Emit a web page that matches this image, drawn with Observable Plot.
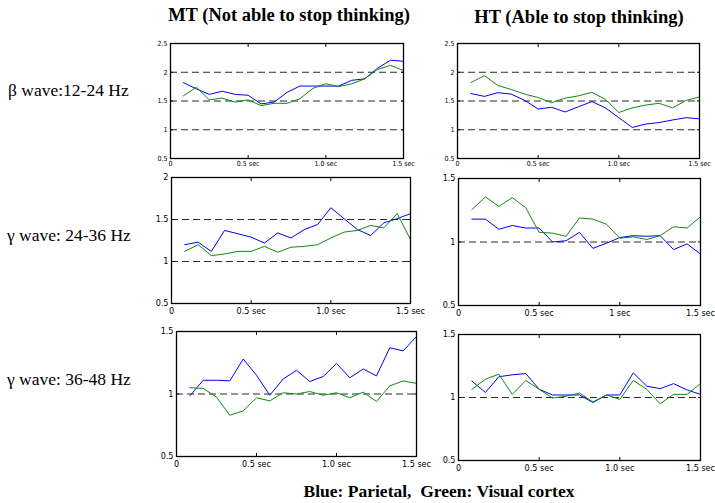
<!DOCTYPE html>
<html><head><meta charset="utf-8">
<script src="https://cdn.jsdelivr.net/npm/d3@7"></script>
<script src="https://cdn.jsdelivr.net/npm/@observablehq/plot@0.6"></script>
<style>
body{margin:0;background:#fff;}
#root{position:relative;width:715px;height:503px;overflow:hidden;background:#fff;}
.t{position:absolute;font-family:"Liberation Serif","Times New Roman",serif;color:#000;white-space:pre;line-height:1;}
.b{font-weight:bold;}
</style></head><body><div id="root"></div>
<script>
// ---- data ----
const timeSec = [0.083,0.167,0.25,0.333,0.417,0.5,0.583,0.667,0.75,0.833,0.917,1.0,1.083,1.167,1.25,1.333,1.417,1.5];
const colTitles = ["MT (Not able to stop thinking)", "HT (Able to stop thinking)"];
const rowLabels = ["\u03b2 wave:12-24 Hz", "\u03b3 wave: 24-36 Hz", "\u03b3 wave: 36-48 Hz"];
const captionText = "Blue: Parietal,  Green: Visual cortex";
const xTickValues = [0, 0.5, 1, 1.5];
const xTickLabelsA = ["0", "0.5 sec", "1.0 sec", "1.5 sec"];
const xTickLabelsB = ["0", "0.5 sec", "1 sec", "1.5 sec"];
const yTicksBeta = [0.5, 1, 1.5, 2, 2.5];
const yTicksMid = [0.5, 1, 1.5, 2];
const yTicksLow = [0.5, 1, 1.5];

const betaMTParietal = [1.82,1.71,1.615,1.67,1.615,1.60,1.45,1.48,1.65,1.76,1.76,1.76,1.76,1.86,1.885,2.07,2.21,2.19];
const betaMTVisual   = [1.59,1.74,1.52,1.55,1.48,1.52,1.42,1.46,1.46,1.54,1.72,1.80,1.75,1.80,1.885,2.05,2.12,2.03];
const betaHTParietal = [1.63,1.58,1.645,1.62,1.51,1.36,1.39,1.31,1.40,1.49,1.38,1.21,1.04,1.10,1.125,1.17,1.21,1.19];
const betaHTVisual   = [1.82,1.94,1.77,1.70,1.62,1.56,1.47,1.55,1.59,1.65,1.53,1.30,1.38,1.43,1.46,1.38,1.51,1.57];

const gammaLoMTParietal = [1.20,1.23,1.12,1.37,1.33,1.29,1.22,1.34,1.28,1.38,1.44,1.64,1.51,1.38,1.31,1.46,1.51,1.57];
const gammaLoMTVisual   = [1.12,1.20,1.07,1.09,1.12,1.12,1.18,1.11,1.17,1.18,1.20,1.28,1.35,1.37,1.43,1.40,1.57,1.26];
const gammaLoHTParietal = [1.18,1.18,1.10,1.13,1.11,1.11,1.00,1.01,1.076,0.95,0.99,1.035,1.05,1.045,1.05,0.94,0.985,0.905];
const gammaLoHTVisual   = [1.255,1.355,1.28,1.35,1.27,1.076,1.07,1.045,1.19,1.18,1.14,1.03,1.04,1.02,1.05,1.12,1.11,1.20];

const gammaHiMTParietal = [0.985,1.11,1.11,1.105,1.28,1.15,0.99,1.12,1.19,1.10,1.14,1.245,1.13,1.20,1.145,1.37,1.345,1.46];
const gammaHiMTVisual   = [1.05,1.045,0.975,0.83,0.865,0.97,0.945,1.01,1.00,1.02,0.99,1.01,0.97,1.015,0.94,1.065,1.105,1.085];
const gammaHiHTParietal = [1.13,1.04,1.165,1.18,1.19,1.065,1.02,1.02,1.02,0.96,1.02,1.02,1.195,1.09,1.07,1.11,1.06,1.025];
const gammaHiHTVisual   = [1.065,1.145,1.185,1.025,1.135,1.065,0.995,1.01,1.035,0.965,1.02,0.985,1.135,1.065,0.95,1.025,1.025,1.11];

const dashedBeta = [1, 1.5, 2];
const dashedMid = [1, 1.5];
const dashedLow = [1];

// ---- layout ----
const root = document.getElementById("root");
const tickFont = '"Liberation Sans Narrow","DejaVu Sans Condensed","Liberation Sans",Arial,sans-serif';

const panels = [
  {L:170,T:43,R:403,B:158, y:[0.5,2.5], yt:yTicksBeta, dashed:dashedBeta, par:betaMTParietal, vis:betaMTVisual, xl:xTickLabelsA, fs:7, xpad:3},
  {L:457,T:43,R:699,B:158, y:[0.5,2.5], yt:yTicksBeta, dashed:dashedBeta, par:betaHTParietal, vis:betaHTVisual, xl:xTickLabelsA, fs:7, xpad:3},
  {L:171,T:177,R:410,B:303, y:[0.5,2], yt:yTicksMid, dashed:dashedMid, par:gammaLoMTParietal, vis:gammaLoMTVisual, xl:xTickLabelsA, fs:9, xpad:4},
  {L:458,T:178,R:700,B:305, y:[0.5,1.5], yt:yTicksLow, dashed:dashedLow, par:gammaLoHTParietal, vis:gammaLoHTVisual, xl:xTickLabelsB, fs:9, xpad:4},
  {L:176,T:331,R:416,B:456, y:[0.5,1.5], yt:yTicksLow, dashed:dashedLow, par:gammaHiMTParietal, vis:gammaHiMTVisual, xl:xTickLabelsA, fs:9, xpad:4},
  {L:458,T:334,R:700,B:460, y:[0.5,1.5], yt:yTicksLow, dashed:dashedLow, par:gammaHiHTParietal, vis:gammaHiHTVisual, xl:xTickLabelsA, fs:9, xpad:4}
];

panels.forEach(cfg => {
  const rows = timeSec.map((t, i) => ({t, p: cfg.par[i], v: cfg.vis[i]}));
  const ml = 30, mr = 30, mt = 10, mb = 22;
  const W = cfg.R - cfg.L, H = cfg.B - cfg.T;
  const xfmt = d => cfg.xl[xTickValues.indexOf(d)];
  const svg = Plot.plot({
    width: W + ml + mr, height: H + mt + mb,
    marginLeft: ml, marginRight: mr, marginTop: mt, marginBottom: mb,
    x: {domain: [0, 1.5]},
    y: {domain: cfg.y},
    style: {fontFamily: tickFont, fontSize: cfg.fs + "px", background: "transparent", overflow: "visible", color: "#000"},
    marks: [
      Plot.ruleY(cfg.dashed, {stroke: "#2a2a2a", strokeDasharray: "7,4", strokeWidth: 1.1}),
      Plot.line(rows, {x: "t", y: "p", stroke: "#0000ff", strokeWidth: 1}),
      Plot.line(rows, {x: "t", y: "v", stroke: "#108a10", strokeWidth: 1}),
      Plot.axisX({ticks: xTickValues, tickSize: 0, tickPadding: cfg.xpad, tickFormat: xfmt, label: null}),
      Plot.axisX({ticks: [0.5, 1], tickSize: -3, tickFormat: () => "", label: null}),
      Plot.axisX({anchor: "top", ticks: [0.5, 1], tickSize: -3, tickFormat: () => "", label: null}),
      Plot.axisY({ticks: cfg.yt, tickSize: 0, tickPadding: 3, tickFormat: d => String(d), label: null}),
      Plot.axisY({ticks: cfg.yt, tickSize: -3, tickFormat: () => "", label: null}),
      Plot.axisY({anchor: "right", ticks: cfg.yt, tickSize: -3, tickFormat: () => "", label: null}),
      Plot.frame({stroke: "#000", strokeWidth: 1.3})
    ]
  });
  svg.style.position = "absolute";
  svg.style.left = (cfg.L - ml) + "px";
  svg.style.top = (cfg.T - mt) + "px";
  root.appendChild(svg);
});

function addText(txt, cls, size, left, baseline, anchorCenter) {
  const d = document.createElement("div");
  d.className = "t " + cls;
  d.textContent = txt;
  d.style.fontSize = size + "px";
  d.style.top = (baseline - 0.837 * size) + "px";
  if (anchorCenter) { d.style.left = left + "px"; d.style.transform = "translateX(-50%)"; }
  else d.style.left = left + "px";
  root.appendChild(d);
}
addText(colTitles[0], "b", 18.5, 289, 21, true);
addText(colTitles[1], "b", 18.5, 579, 23, true);
addText(rowLabels[0], "", 17.5, 8, 97, false);
addText(rowLabels[1], "", 17.5, 7, 242, false);
addText(rowLabels[2], "", 17.5, 7, 386, false);
addText(captionText, "b", 17.5, 439, 498, true);
</script></body></html>
